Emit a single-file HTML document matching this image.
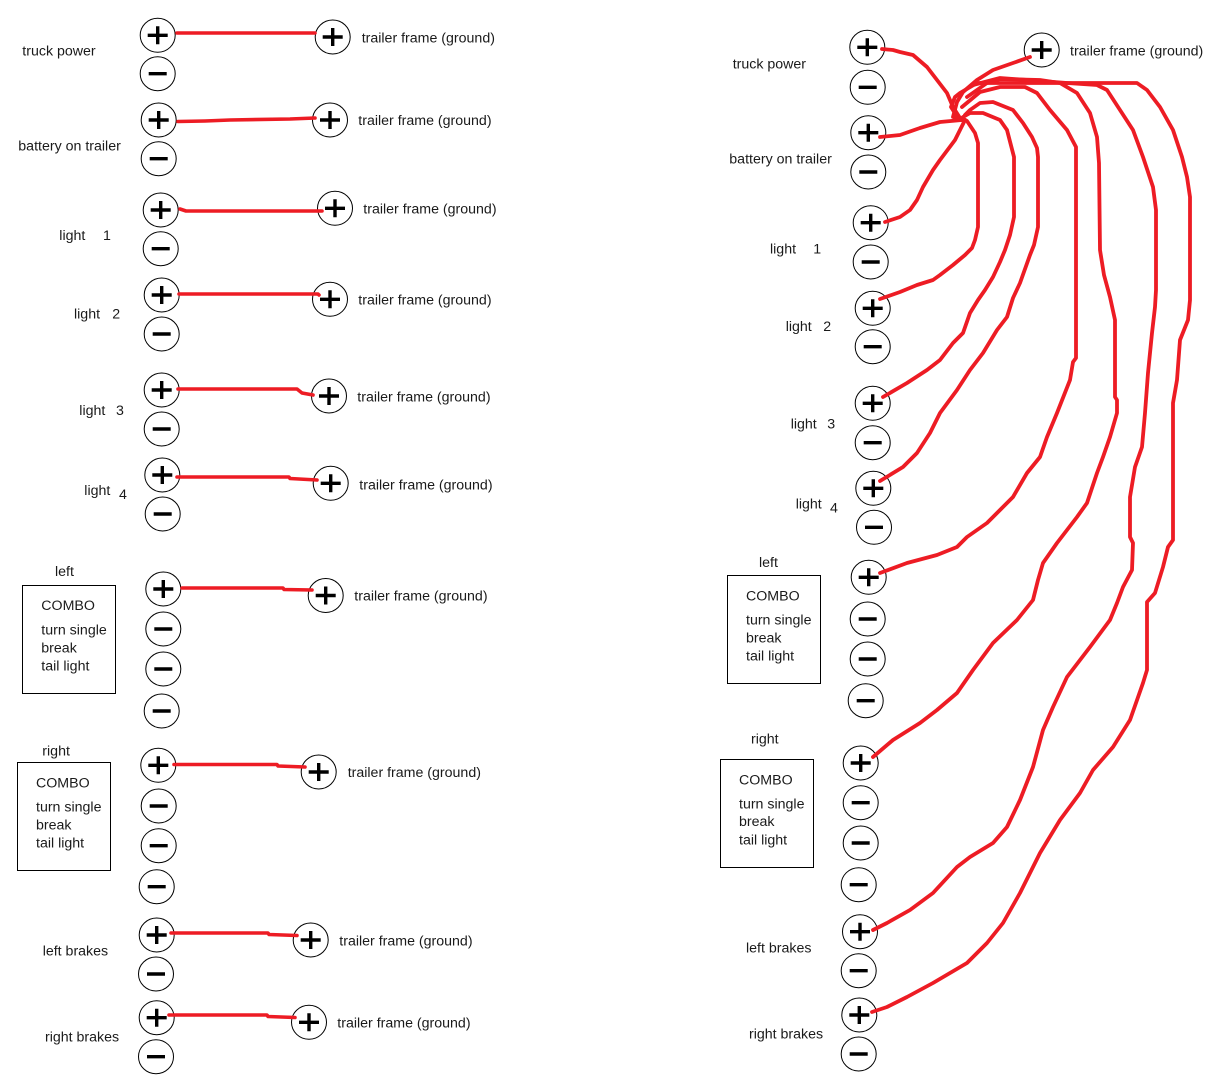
<!DOCTYPE html>
<html><head><meta charset="utf-8"><style>
html,body{margin:0;padding:0;background:#fff;}
svg{display:block;}
text{font-family:"Liberation Sans",Arial,sans-serif;font-size:14.2px;fill:#1a1a1a;}
.w{fill:none;stroke:#ed1c24;stroke-linejoin:round;stroke-linecap:round;}
</style></head><body>
<svg width="1226" height="1092" viewBox="0 0 1226 1092" xmlns="http://www.w3.org/2000/svg">
<defs>
<g id="p"><ellipse cx="0" cy="0" rx="17.5" ry="17" fill="#fff" stroke="#000" stroke-width="1"/><path d="M-10 0H10M0 -9V9" stroke="#000" stroke-width="3.4"/></g>
<g id="m"><ellipse cx="0" cy="0" rx="17.5" ry="17" fill="#fff" stroke="#000" stroke-width="1"/><path d="M-9 0H9" stroke="#000" stroke-width="3.4"/></g>
</defs>

<!-- LEFT SIDE circles -->
<use href="#p" x="157.7" y="35.3"/><use href="#m" x="157.7" y="73.7"/><use href="#p" x="332.7" y="37"/>
<use href="#p" x="158.7" y="120"/><use href="#m" x="158.7" y="158.7"/><use href="#p" x="330" y="120"/>
<use href="#p" x="160.7" y="210"/><use href="#m" x="160.7" y="248.7"/><use href="#p" x="335" y="208.3"/>
<use href="#p" x="161.7" y="295"/><use href="#m" x="161.7" y="334"/><use href="#p" x="330" y="299.3"/>
<use href="#p" x="161.7" y="390"/><use href="#m" x="161.7" y="429"/><use href="#p" x="329" y="396"/>
<use href="#p" x="162.3" y="475"/><use href="#m" x="162.7" y="514"/><use href="#p" x="330.7" y="483.3"/>
<use href="#p" x="163.3" y="589"/><use href="#m" x="163.3" y="629"/><use href="#m" x="163.3" y="669"/><use href="#m" x="161.7" y="711"/><use href="#p" x="325.7" y="595.5"/>
<use href="#p" x="158.3" y="765.3"/><use href="#m" x="158.7" y="806"/><use href="#m" x="158.7" y="845.7"/><use href="#m" x="156.7" y="886.7"/><use href="#p" x="318.7" y="772"/>
<use href="#p" x="156.7" y="935"/><use href="#m" x="156" y="974"/><use href="#p" x="310.7" y="940"/>
<use href="#p" x="156.7" y="1017.7"/><use href="#m" x="156" y="1056.7"/><use href="#p" x="309" y="1022.3"/>

<!-- LEFT wires -->
<g class="w" stroke-width="3.6">
<polyline points="177,33 315,33"/>
<polyline points="178,121.5 205,121 230,120 290,119 315,118"/>
<polyline points="180,209 186,211 322,211"/>
<polyline points="179,294 318,294 319,295"/>
<polyline points="178,389 297,389 302,393 313,395"/>
<polyline points="177,477 289,477 290,478.5 317,480"/>
<polyline points="182,588 283,588 284,589.5 312,590"/>
<polyline points="174,764.5 277,764.5 278,766 305,767"/>
<polyline points="171,933 268,933 269,934.5 297,935.5"/>
<polyline points="169,1015 267,1015 268,1016.5 295,1017.5"/>
</g>

<!-- LEFT labels -->
<text x="22.3" y="55.7">truck power</text>
<text x="18.3" y="150.3">battery on trailer</text>
<text x="59.3" y="240">light</text><text x="103" y="240">1</text>
<text x="74" y="318.3">light</text><text x="112.3" y="318.3">2</text>
<text x="79.3" y="415">light</text><text x="116" y="415">3</text>
<text x="84.3" y="495">light</text><text x="119" y="499">4</text>
<text x="55" y="576">left</text>
<rect x="22.5" y="585.5" width="93" height="108" fill="none" stroke="#000" stroke-width="1"/>
<text x="41.3" y="610">COMBO</text>
<text x="41.3" y="634.3">turn single</text>
<text x="41.3" y="652.3">break</text>
<text x="41.3" y="670.3">tail light</text>
<text x="42.3" y="755.3">right</text>
<rect x="17.5" y="762.5" width="93" height="108" fill="none" stroke="#000" stroke-width="1"/>
<text x="36" y="787.3">COMBO</text>
<text x="36" y="811.3">turn single</text>
<text x="36" y="829.3">break</text>
<text x="36" y="847.3">tail light</text>
<text x="42.7" y="955.7">left brakes</text>
<text x="45" y="1041.7">right brakes</text>

<text x="361.7" y="42.3">trailer frame (ground)</text>
<text x="358.3" y="125">trailer frame (ground)</text>
<text x="363.3" y="213.3">trailer frame (ground)</text>
<text x="358.3" y="304.3">trailer frame (ground)</text>
<text x="357.3" y="401.7">trailer frame (ground)</text>
<text x="359.3" y="489.3">trailer frame (ground)</text>
<text x="354.3" y="600.5">trailer frame (ground)</text>
<text x="347.7" y="777">trailer frame (ground)</text>
<text x="339.3" y="945.7">trailer frame (ground)</text>
<text x="337.3" y="1027.7">trailer frame (ground)</text>

<!-- RIGHT SIDE circles -->
<use href="#p" x="867.3" y="47.3"/><use href="#m" x="867.7" y="87.3"/><use href="#p" x="1041.7" y="50"/>
<use href="#p" x="868.3" y="132.7"/><use href="#m" x="868.3" y="172"/>
<use href="#p" x="870.7" y="222.7"/><use href="#m" x="870.7" y="262"/>
<use href="#p" x="872.7" y="308.3"/><use href="#m" x="872.7" y="346.7"/>
<use href="#p" x="872.7" y="403.3"/><use href="#m" x="872.7" y="442.7"/>
<use href="#p" x="873.3" y="488.3"/><use href="#m" x="874" y="527.3"/>
<use href="#p" x="868.7" y="577.3"/><use href="#m" x="867.7" y="619"/><use href="#m" x="867.7" y="659"/><use href="#m" x="865.7" y="700.7"/>
<use href="#p" x="860.7" y="763"/><use href="#m" x="860.7" y="802.7"/><use href="#m" x="860.7" y="843"/><use href="#m" x="858.7" y="884.7"/>
<use href="#p" x="860" y="931.7"/><use href="#m" x="858.7" y="970.7"/>
<use href="#p" x="859.3" y="1015"/><use href="#m" x="858.7" y="1054"/>

<!-- RIGHT labels -->
<text x="732.7" y="68.3">truck power</text>
<text x="1070" y="55.7">trailer frame (ground)</text>
<text x="729.3" y="163.3">battery on trailer</text>
<text x="770" y="253.3">light</text><text x="813.3" y="253.3">1</text>
<text x="785.7" y="331">light</text><text x="823.3" y="331">2</text>
<text x="790.7" y="428.3">light</text><text x="827.3" y="428.3">3</text>
<text x="795.7" y="508.3">light</text><text x="830" y="512.3">4</text>
<text x="759" y="567">left</text>
<rect x="727.5" y="575.5" width="93" height="108" fill="none" stroke="#000" stroke-width="1"/>
<text x="746" y="600.7">COMBO</text>
<text x="746" y="624.3">turn single</text>
<text x="746" y="642.3">break</text>
<text x="746" y="660.7">tail light</text>
<text x="751" y="743.7">right</text>
<rect x="720.5" y="759.5" width="93" height="108" fill="none" stroke="#000" stroke-width="1"/>
<text x="739" y="784.3">COMBO</text>
<text x="739" y="808.3">turn single</text>
<text x="739" y="826">break</text>
<text x="739" y="844.3">tail light</text>
<text x="746" y="952.3">left brakes</text>
<text x="749" y="1038.3">right brakes</text>

<!-- RIGHT wires -->
<g class="w" stroke-width="3.8">
<polyline points="882,49 893,50 900,52 913,55 927,67 937,80 947,93 953,107 960,118"/>
<polyline points="1030,57 1013,63 993,70 977,80 963,92 957,102 953,117 962,120"/>
<polyline points="880,137 900,135 920,128 940,122 962,120"/>
<polyline points="885,222 900,217 910,210 917,200 923,187 933,170 940,160 955,140 965,120"/>
<polyline points="962,118 967,121 975,133 978,143 978,227 975,240 972,248 965,255 953,265 940,275 933,280 917,285 900,292 880,299"/>
<polyline points="963,117 970,113 983,113 1000,120 1007,130 1014,157 1014,217 1010,235 1005,250 1000,262 993,277 985,290 978,300 970,313 963,333 953,343 940,360 927,370 907,383 883,397"/>
<polyline points="965,115 970,110 980,103 993,102 1013,110 1023,123 1032,137 1037,148 1038,157 1038,227 1034,245 1030,255 1020,283 1013,298 1007,317 997,330 983,353 970,370 957,390 940,413 930,433 917,453 903,467 880,481"/>
<polyline points="962,107 980,92 1000,87 1025,87 1037,93 1050,110 1067,130 1076,147 1076,358 1073,362 1070,380 1057,413 1047,437 1040,457 1027,473 1013,497 1000,510 987,523 967,537 957,547 937,555 907,563 880,573"/>
<polyline points="967,97 987,83 1000,79 1040,80 1060,83 1077,93 1090,113 1097,137 1099,163 1100,250 1104,275 1110,297 1115,320 1115,397 1117,400 1117,413 1110,437 1103,457 1097,473 1087,503 1077,517 1057,543 1043,563 1038,580 1033,600 1017,620 993,643 973,670 957,693 937,710 920,723 893,740 873,757"/>
<polyline points="973,85 1000,78 1067,83 1097,85 1107,90 1120,110 1133,130 1143,157 1153,187 1156,210 1156,290 1155,307 1152,333 1148,373 1145,413 1142,447 1135,467 1130,497 1130,537 1133,543 1132,570 1123,587 1117,603 1110,620 1090,647 1067,677 1053,707 1043,730 1033,767 1020,800 1007,827 993,843 970,857 957,867 933,893 910,910 887,923 873,930"/>
<polyline points="958,118 951,107 955,97 960,93 977,83 1137,83 1147,90 1160,107 1173,130 1182,157 1187,177 1190,197 1190,300 1188,320 1180,340 1177,380 1173,403 1173,540 1168,547 1163,567 1155,593 1147,602 1147,670 1143,683 1130,720 1113,747 1093,770 1080,793 1060,820 1040,853 1020,893 1003,923 987,943 967,963 933,983 907,997 887,1007 872,1012"/>
</g>
</svg>
</body></html>
